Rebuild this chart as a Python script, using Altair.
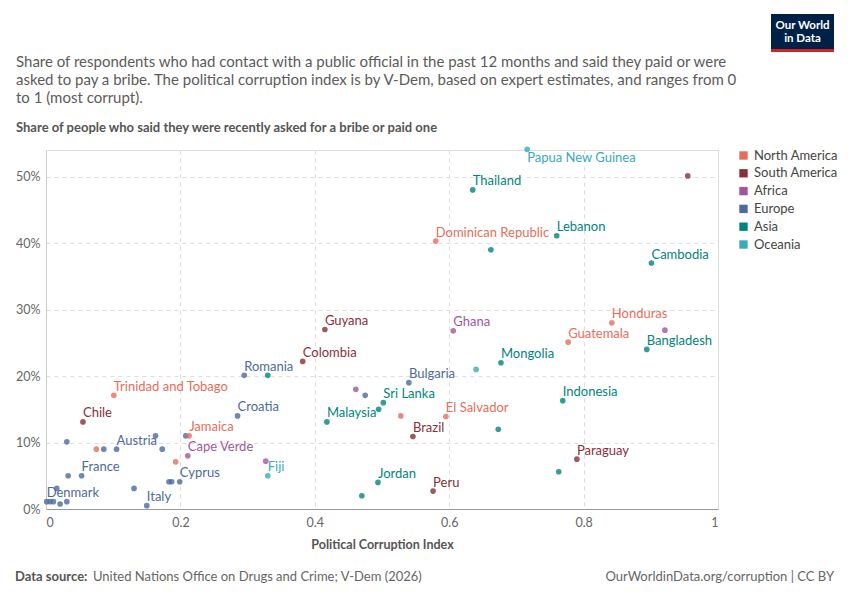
import altair as alt
import pandas as pd

# ---- data ----
names = [
    "Papua New Guinea", "", "Thailand", "Dominican Republic", "Lebanon", "", "Cambodia",
    "Honduras", "", "Guatemala", "Bangladesh", "Guyana", "Ghana", "Colombia", "Mongolia",
    "", "Romania", "", "Bulgaria", "", "", "Sri Lanka", "", "Malaysia", "", "El Salvador",
    "Brazil", "", "Indonesia", "Paraguay", "", "Jordan", "", "Peru",
    "Trinidad and Tobago", "Chile", "Croatia", "", "", "", "Austria", "", "", "",
    "Jamaica", "Cape Verde", "", "", "Fiji", "", "France", "", "", "Cyprus", "", "",
    "Italy", "Denmark", "", "", "", "",
]
regions = [
    "Oceania", "South America", "Asia", "North America", "Asia", "Asia", "Asia",
    "North America", "Africa", "North America", "Asia", "South America", "Africa",
    "South America", "Asia", "Oceania", "Europe", "Asia", "Europe", "Africa", "Europe",
    "Asia", "Asia", "Asia", "North America", "North America", "South America", "Asia",
    "Asia", "South America", "Asia", "Asia", "Asia", "South America",
    "North America", "South America", "Europe", "Europe", "North America", "Europe",
    "Europe", "Europe", "Europe", "Europe", "North America", "Africa", "North America",
    "Africa", "Oceania", "Europe", "Europe", "Europe", "Europe", "Europe", "Europe",
    "Europe", "Europe", "Europe", "Europe", "Europe", "Europe", "Europe",
]
corruption = [
    0.716, 0.955, 0.635, 0.580, 0.760, 0.662, 0.901,
    0.842, 0.921, 0.777, 0.894, 0.415, 0.606, 0.382, 0.677,
    0.640, 0.295, 0.330, 0.540, 0.461, 0.475, 0.502, 0.495, 0.418, 0.528, 0.595,
    0.546, 0.673, 0.769, 0.790, 0.763, 0.494, 0.470, 0.576,
    0.101, 0.055, 0.285, 0.031, 0.075, 0.086, 0.105, 0.163, 0.173, 0.208,
    0.213, 0.211, 0.193, 0.327, 0.330, 0.033, 0.053, 0.183, 0.187, 0.199, 0.131, 0.016,
    0.150, 0.001, 0.006, 0.011, 0.021, 0.031,
]
bribe_share = [
    54.1, 50.1, 48.0, 40.3, 41.1, 39.0, 37.0,
    28.0, 26.9, 25.1, 24.0, 27.0, 26.8, 22.2, 22.0,
    21.0, 20.1, 20.1, 19.0, 18.0, 17.1, 16.0, 15.0, 13.1, 14.0, 13.9,
    10.9, 12.0, 16.3, 7.5, 5.6, 4.0, 2.0, 2.7,
    17.1, 13.1, 14.0, 10.1, 9.0, 9.0, 9.0, 11.0, 9.0, 11.0,
    11.0, 8.0, 7.1, 7.2, 5.0, 5.0, 5.0, 4.1, 4.1, 4.1, 3.1, 3.1,
    0.5, 1.1, 1.1, 1.1, 0.75, 1.1,
]
region_order = ["North America", "South America", "Africa", "Europe", "Asia", "Oceania"]
region_colors = ["#E56E5A", "#883039", "#A2559C", "#4C6A9C", "#00847E", "#38AABA"]
x_ticks = [0, 0.2, 0.4, 0.6, 0.8, 1]
y_ticks = [0, 10, 20, 30, 40, 50]

subtitle_lines = [
    "Share of respondents who had contact with a public official in the past 12 months and said they paid or were",
    "asked to pay a bribe. The political corruption index is by V-Dem, based on expert estimates, and ranges from 0",
    "to 1 (most corrupt).",
]
y_title = "Share of people who said they were recently asked for a bribe or paid one"
x_title = "Political Corruption Index"
source_label = "Data source:"
source_text = "United Nations Office on Drugs and Crime; V-Dem (2026)"
credit_text = "OurWorldinData.org/corruption | CC BY"

df = pd.DataFrame({"name": names, "region": regions, "x": corruption, "y": bribe_share})

FONT = "Lato"
W, H = 672, 359

color = alt.Color(
    "region:N",
    scale=alt.Scale(domain=region_order, range=region_colors),
    legend=alt.Legend(
        title=None, orient="none", legendX=691, legendY=-1,
        symbolType="square", symbolSize=70, symbolOpacity=1, symbolStrokeWidth=0,
        labelFontSize=13, labelColor="#444", labelFont=FONT, rowPadding=3.8,
        labelOffset=4,
    ),
)

xenc = alt.X(
    "x:Q", title=x_title,
    scale=alt.Scale(domain=[0, 1], nice=False, zero=False),
    axis=alt.Axis(values=x_ticks, format="~g", grid=True, gridDash=[4, 4], gridColor="#dddddd",
                  domainColor="#999", ticks=False, labelPadding=7, labelFontSize=12.5,
                  labelColor="#666", titleFontSize=12.5, titleFontWeight="bold",
                  titleColor="#555", titlePadding=10, labelFont=FONT, titleFont=FONT),
)
yenc = alt.Y(
    "y:Q", title=None,
    scale=alt.Scale(domain=[0, 54], nice=False),
    axis=alt.Axis(values=y_ticks, labelExpr="datum.value + '%'", grid=True, gridDash=[4, 4],
                  gridColor="#dddddd", domainColor="#cccccc", ticks=False, labelPadding=6,
                  labelFontSize=12.5, labelColor="#666", labelFont=FONT),
)

base = alt.Chart(df)
points = base.mark_circle(size=32, opacity=0.8).encode(x=xenc, y=yenc, color=color)
labels = base.transform_filter(
    "datum.name != '' && datum.name != 'Papua New Guinea'"
).mark_text(align="left", baseline="middle", dy=-8.5, fontSize=13, font=FONT).encode(
    x="x:Q", y="y:Q", text="name:N", color=alt.Color("region:N", legend=None)
)
labels_below = base.transform_filter(
    "datum.name == 'Papua New Guinea'"
).mark_text(align="left", baseline="middle", dy=9, fontSize=13, font=FONT).encode(
    x="x:Q", y="y:Q", text="name:N", color=alt.Color("region:N", legend=None)
)


def txt(text, x, y, **kw):
    opts = dict(font=FONT, fontSize=15, color="#5b5b5b", align="left", baseline="middle")
    opts.update(kw)
    return alt.Chart(alt.Data(values=[{}])).mark_text(text=text, **opts).encode(
        x=alt.value(x), y=alt.value(y)
    )


def box(x1, x2, y1, y2, fill):
    return alt.Chart(alt.Data(values=[{}])).mark_rect(color=fill).encode(
        x=alt.value(x1), x2=alt.value(x2), y=alt.value(y1), y2=alt.value(y2)
    )


header = [
    txt(subtitle_lines[0], -30, -88),
    txt(subtitle_lines[1], -30, -70),
    txt(subtitle_lines[2], -30, -52),
    txt(y_title, -30, -22, fontSize=13, fontWeight="bold", color="#555"),
    box(725, 788, -136, -98, "#002147"),
    box(725, 788, -101, -98, "#ce261e"),
    txt("Our World", 756.5, -124, fontSize=11.5, fontWeight="bold", color="white", align="center"),
    txt("in Data", 756.5, -111, fontSize=11.5, fontWeight="bold", color="white", align="center"),
    txt(source_label, -31, 427, fontSize=13, fontWeight="bold", color="#555"),
    txt(source_text, 47, 427, fontSize=13, color="#666"),
    txt(credit_text, 788, 427, fontSize=13, color="#666", align="right"),
]

chart = alt.layer(points, labels, labels_below, *header).properties(
    width=W, height=H,
    autosize=alt.AutoSizeParams(type="none"),
    padding={"left": 38, "top": 142, "right": 124, "bottom": 83},
).configure_view(stroke=None).configure(font=FONT)

chart.save("out.html", embed_options={"renderer": "svg", "actions": False})
